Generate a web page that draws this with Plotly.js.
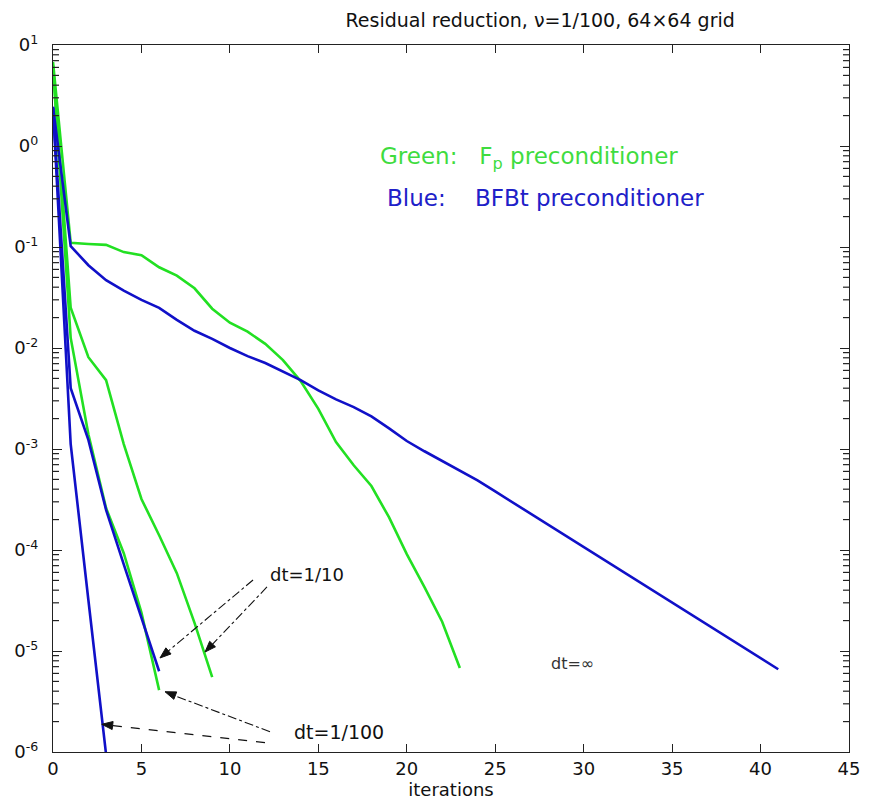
<!DOCTYPE html>
<html>
<head>
<meta charset="utf-8">
<script src="https://cdn.plot.ly/plotly-3.0.1.min.js"></script>
<style>
  html, body { margin: 0; padding: 0; background: #fff; }
  #chart { width: 874px; height: 806px; }
</style>
</head>
<body>
<div id="chart"></div>
<script>
// ---- Data (residual vs iteration) ----
// Blue: BFBt preconditioner
var blueDtInf = [2.45, 0.102, 0.066, 0.047, 0.037, 0.030, 0.025, 0.019, 0.0148, 0.0123,
                 0.0100, 0.0083, 0.0071, 0.0058, 0.0048, 0.0038, 0.0031, 0.0026, 0.0021, 0.0016,
                 0.0012, 9.5e-4, 7.6e-4, 6.2e-4, 4.9e-4, 3.8e-4, 2.95e-4, 2.3e-4, 1.78e-4, 1.38e-4,
                 1.07e-4, 8.3e-5, 6.5e-5, 5.0e-5, 3.9e-5, 3.0e-5, 2.35e-5, 1.82e-5, 1.41e-5, 1.10e-5,
                 8.5e-6, 6.6e-6];
var blueDt10  = [2.4, 0.0040, 0.00123, 2.5e-4, 7.2e-5, 2.1e-5, 6.3e-6];
var blueDt100 = [2.4, 0.00112, 3.2e-5, 9.5e-7];
// Green: Fp preconditioner
var greenDtInf = [6.8, 0.110, 0.107, 0.105, 0.089, 0.083, 0.063, 0.052, 0.039, 0.0245,
                  0.0178, 0.0145, 0.0110, 0.0076, 0.0047, 0.0025, 0.00117, 6.9e-4, 4.3e-4, 2.1e-4,
                  9.1e-5, 4.3e-5, 1.95e-5, 6.8e-6];
var greenDt10  = [6.3, 0.025, 0.0081, 0.0048, 0.00112, 3.2e-4, 1.4e-4, 5.9e-5, 1.9e-5, 5.5e-6];
var greenDt100 = [6.0, 0.0126, 0.0014, 2.6e-4, 9.3e-5, 2.4e-5, 4.1e-6];

var xTickVals = [0, 5, 10, 15, 20, 25, 30, 35, 40, 45];
var yExponents = [1, 0, -1, -2, -3, -4, -5, -6];
var yTickText = ["0<sup>1</sup>", "0<sup>0</sup>", "0<sup>-1</sup>", "0<sup>-2</sup>",
                 "0<sup>-3</sup>", "0<sup>-4</sup>", "0<sup>-5</sup>", "0<sup>-6</sup>"];

// ---- Styling ----
var GREEN = '#22e022';
var BLUE = '#1010c8';
var FONT = 'DejaVu Sans, Arial, sans-serif';
var Y_LOG_MIN = -6, Y_LOG_MAX = 1;

function iters(arr) { return arr.map(function (_, i) { return i; }); }
function line(y, color) {
  return {
    x: iters(y), y: y, type: 'scatter', mode: 'lines',
    line: { color: color, width: 2.6 }, hoverinfo: 'skip', showlegend: false
  };
}

var traces = [
  line(greenDtInf, GREEN), line(greenDt10, GREEN), line(greenDt100, GREEN),
  line(blueDtInf, BLUE), line(blueDt10, BLUE), line(blueDt100, BLUE)
];

var yTickVals = yExponents.map(function (e) { return Math.pow(10, e); });

var arrowCol = '#111';
function head(path) {
  return { type: 'path', xref: 'paper', yref: 'paper', path: path, layer: 'above',
           fillcolor: arrowCol, line: { color: arrowCol, width: 1 } };
}
function guide(x0, y0, x1, y1, dash) {
  return { type: 'line', xref: 'paper', yref: 'paper', x0: x0, y0: y0, x1: x1, y1: y1,
           layer: 'above', line: { color: arrowCol, width: 1.1, dash: dash } };
}

var shapes = [
  guide(0.2513, 0.2433, 0.1440, 0.1420, 'dashdot'),
  guide(0.2688, 0.2334, 0.2000, 0.1520, 'dashdot'),
  guide(0.2726, 0.0287, 0.1520, 0.0800, 'dashdot'),
  guide(0.2663, 0.0132, 0.0740, 0.0375, 'dash'),
  head('M 0.1344 0.1330 L 0.1418 0.1473 L 0.1483 0.1387 Z'),
  head('M 0.1910 0.1414 L 0.1968 0.1566 L 0.2041 0.1488 Z'),
  head('M 0.1407 0.0853 L 0.1554 0.0850 L 0.1518 0.0745 Z'),
  head('M 0.0612 0.0392 L 0.0755 0.0431 L 0.0743 0.0318 Z')
];

// minor log ticks (2..9 in each decade), inside, on both vertical sides
var plotW = 874 - 53 - 25;
var minorLen = 6 / plotW;
for (var e = Y_LOG_MIN; e < Y_LOG_MAX; e++) {
  for (var m = 2; m <= 9; m++) {
    var yp = (e + Math.log10(m) - Y_LOG_MIN) / (Y_LOG_MAX - Y_LOG_MIN);
    shapes.push({ type: 'line', xref: 'paper', yref: 'paper', x0: 0, x1: minorLen, y0: yp, y1: yp,
                  layer: 'above', line: { color: '#222', width: 1.2 } });
    shapes.push({ type: 'line', xref: 'paper', yref: 'paper', x0: 1 - minorLen, x1: 1, y0: yp, y1: yp,
                  layer: 'above', line: { color: '#222', width: 1.2 } });
  }
}

var layout = {
  width: 874, height: 806,
  margin: { l: 53, r: 25, t: 45, b: 54 },
  paper_bgcolor: '#fff', plot_bgcolor: '#fff',
  font: { family: FONT, color: '#111', size: 18 },
  title: {
    text: 'Residual reduction, \u03bd=1/100, 64\u00d764 grid',
    font: { family: FONT, size: 19, color: '#111' },
    x: 0.612, xref: 'paper', xanchor: 'center',
    y: 1 - 20 / 806, yref: 'container', yanchor: 'middle'
  },
  xaxis: {
    range: [0, 45], tickvals: xTickVals, ticks: 'inside', ticklen: 8,
    tickcolor: '#222', tickwidth: 1.2, showline: true, linecolor: '#222', linewidth: 1.3,
    mirror: 'ticks', showgrid: false, zeroline: false,
    tickfont: { family: FONT, size: 18, color: '#111' },
    title: { text: 'iterations', font: { family: FONT, size: 18, color: '#111' }, standoff: 4 }
  },
  yaxis: {
    type: 'log', range: [Y_LOG_MIN, Y_LOG_MAX], tickmode: 'array', tickvals: yTickVals, ticktext: yTickText,
    ticks: 'inside', ticklen: 9, tickcolor: '#222', tickwidth: 1.2,
    showline: true, linecolor: '#222', linewidth: 1.3, mirror: 'ticks',
    showgrid: false, zeroline: false,
    tickfont: { family: FONT, size: 18, color: '#111' }, ticklabelstandoff: 10
  },
  shapes: shapes,
  annotations: [
    { xref: 'paper', yref: 'paper', x: 0.408, y: 0.840, xanchor: 'left', yanchor: 'middle',
      text: 'Green:&nbsp;&nbsp;&nbsp;F<sub>p</sub> preconditioner', showarrow: false,
      font: { family: FONT, size: 23, color: '#3fdc3f' } },
    { xref: 'paper', yref: 'paper', x: 0.417, y: 0.7836, xanchor: 'left', yanchor: 'middle',
      text: 'Blue:&nbsp;&nbsp;&nbsp;&nbsp;BFBt preconditioner', showarrow: false,
      font: { family: FONT, size: 23, color: '#2020c8' } },
    { xref: 'paper', yref: 'paper', x: 0.270, y: 0.2504, xanchor: 'left', yanchor: 'middle',
      text: 'dt=1/10', showarrow: false, font: { family: FONT, size: 18, color: '#111' } },
    { xref: 'paper', yref: 'paper', x: 0.3003, y: 0.0287, xanchor: 'left', yanchor: 'middle',
      text: 'dt=1/100', showarrow: false, font: { family: FONT, size: 19, color: '#111' } },
    { xref: 'paper', yref: 'paper', x: 0.623, y: 0.1245, xanchor: 'left', yanchor: 'middle',
      text: 'dt=\u221e', showarrow: false, font: { family: FONT, size: 16, color: '#333' } }
  ]
};

Plotly.newPlot('chart', traces, layout, { displayModeBar: false });
</script>
</body>
</html>
